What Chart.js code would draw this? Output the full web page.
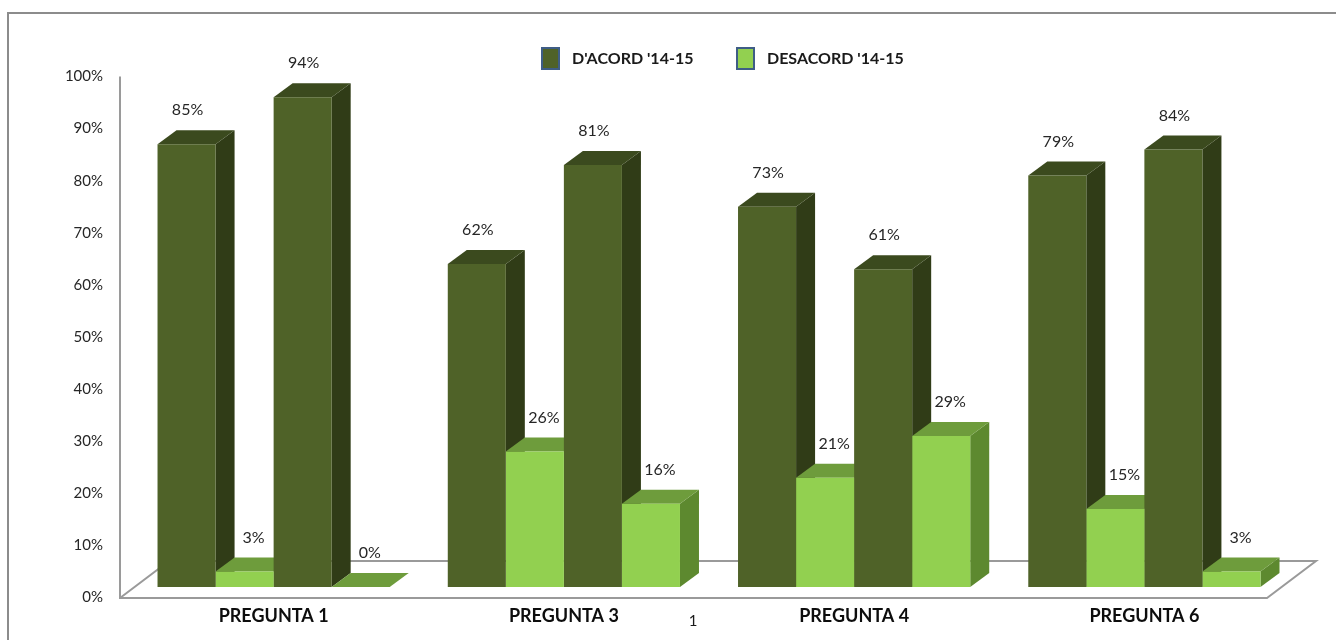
<!DOCTYPE html>
<html>
<head>
<meta charset="utf-8">
<script src="https://cdn.jsdelivr.net/npm/chart.js@4.4.1/dist/chart.umd.min.js"></script>
<style>
  html, body { margin: 0; padding: 0; background: #fff; }
  canvas { display: block; }
</style>
</head>
<body>
<canvas id="chart" width="1336" height="640"></canvas>
<script>
// Data
const categories = ["PREGUNTA 1", "PREGUNTA 3", "PREGUNTA 4", "PREGUNTA 6"];
const acordA = [85, 62, 73, 79];
const desacordA = [3, 26, 21, 15];
const acordB = [94, 81, 61, 84];
const desacordB = [0, 16, 29, 3];
const legendLabels = ["D'ACORD '14-15", "DESACORD '14-15"];
const seriesAxisLabel = "1";

// Colours for the three visible faces of each box
const shade = {
  dark:  { front: "#4F6228", top: "#3B4A1E", side: "#303C17", labelDx: 1 },
  light: { front: "#92D050", top: "#6E9C3C", side: "#5D892F", labelDx: 9 }
};
const DX = 19, DY = 14;

Chart.defaults.font.family = "Lato, 'Open Sans', sans-serif";

// Floor, sides and tops (drawn before the library draws the front faces)
const box3d = {
  id: "box3d",
  beforeDatasetsDraw(chart) {
    const ctx = chart.ctx;
    const a = chart.chartArea;
    const y = chart.scales.y;
    const fy = y.getPixelForValue(0) + 0.5;
    const ty = y.getPixelForValue(100);
    const lx = a.left - 8.5, rx = a.right - 22.5;

    ctx.save();
    ctx.strokeStyle = "#9a9a9a";
    ctx.lineWidth = 2;
    ctx.beginPath();
    ctx.moveTo(lx, ty);
    ctx.lineTo(lx, fy);
    ctx.lineTo(rx, fy);
    ctx.lineTo(rx + 49, fy - 37);
    ctx.lineTo(lx + 49, fy - 37);
    ctx.lineTo(lx, fy);
    ctx.stroke();

    const bars = [];
    chart.data.datasets.forEach((ds, di) => {
      chart.getDatasetMeta(di).data.forEach(el => bars.push({ el, pal: shade[ds.kind] }));
    });
    bars.sort((p, q) => p.el.x - q.el.x);

    bars.forEach(({ el, pal }) => {
      const l = el.x - el.width / 2, r = el.x + el.width / 2;
      const t = el.y, b = el.base;
      ctx.fillStyle = pal.side;
      ctx.beginPath();
      ctx.moveTo(r, t);
      ctx.lineTo(r + DX, t - DY);
      ctx.lineTo(r + DX, b - DY);
      ctx.lineTo(r, b);
      ctx.closePath();
      ctx.fill();
      ctx.fillStyle = pal.top;
      ctx.beginPath();
      ctx.moveTo(l, t);
      ctx.lineTo(l + DX, t - DY);
      ctx.lineTo(r + DX, t - DY);
      ctx.lineTo(r, t);
      ctx.closePath();
      ctx.fill();
    });
    ctx.restore();
  },
  afterDatasetsDraw(chart) {
    const ctx = chart.ctx;
    ctx.save();
    ctx.font = "16px Lato";
    ctx.fillStyle = "#262626";
    ctx.textAlign = "center";
    ctx.textBaseline = "middle";
    chart.data.datasets.forEach((ds, di) => {
      chart.getDatasetMeta(di).data.forEach((el, i) => {
        ctx.fillText(ds.data[i] + "%", el.x + shade[ds.kind].labelDx, el.y - 34);
      });
    });
    ctx.restore();
  },
  afterDraw(chart) {
    const ctx = chart.ctx;
    ctx.save();
    // outer frame
    ctx.strokeStyle = "#8c8c8c";
    ctx.lineWidth = 2;
    ctx.beginPath();
    ctx.moveTo(8, 640);
    ctx.lineTo(8, 13);
    ctx.lineTo(1336, 13);
    ctx.stroke();

    // legend
    const items = [
      { text: legendLabels[0], fill: shade.dark.front, x: 542 },
      { text: legendLabels[1], fill: shade.light.front, x: 737 }
    ];
    ctx.font = "bold 16px Lato";
    ctx.textAlign = "left";
    ctx.textBaseline = "middle";
    items.forEach(it => {
      ctx.fillStyle = it.fill;
      ctx.fillRect(it.x, 48, 17, 21);
      ctx.strokeStyle = "#3E5D86";
      ctx.lineWidth = 2;
      ctx.strokeRect(it.x, 48, 17, 21);
      ctx.fillStyle = "#1a1a1a";
      ctx.fillText(it.text, it.x + 30, 59);
    });

    // series axis label
    ctx.font = "15px Lato";
    ctx.textAlign = "center";
    ctx.fillStyle = "#1a1a1a";
    ctx.fillText(seriesAxisLabel, 693, 621);
    ctx.restore();
  }
};

const mk = (label, data, kind) => ({
  label, data, kind,
  yAxisID: "yb",
  backgroundColor: shade[kind].front,
  borderWidth: 0,
  barPercentage: 1,
  categoryPercentage: 0.8
});

new Chart(document.getElementById("chart"), {
  type: "bar",
  data: {
    labels: categories,
    datasets: [
      mk(legendLabels[0], acordA, "dark"),
      mk(legendLabels[1], desacordA, "light"),
      mk(legendLabels[0], acordB, "dark"),
      mk(legendLabels[1], desacordB, "light")
    ]
  },
  options: {
    responsive: false,
    animation: false,
    layout: { padding: { left: 0, right: 46.5, top: 76.5, bottom: 0 } },
    plugins: { legend: { display: false }, tooltip: { enabled: false } },
    scales: {
      x: {
        grid: { display: false, drawTicks: false },
        border: { display: false },
        ticks: { font: { size: 18, weight: "bold" }, color: "#0d0d0d", padding: 8 },
        afterFit(s) { s.height = 42.5; }
      },
      y: {
        min: 0, max: 100,
        grid: { display: false, drawTicks: false },
        border: { display: false },
        ticks: { stepSize: 10, padding: 25.5, font: { size: 15 }, color: "#262626", callback: v => v + "%" },
        afterFit(s) { s.width = 128.5; }
      },
      yb: { display: false, min: -2, max: 98 }
    }
  },
  plugins: [box3d]
});
</script>
</body>
</html>
